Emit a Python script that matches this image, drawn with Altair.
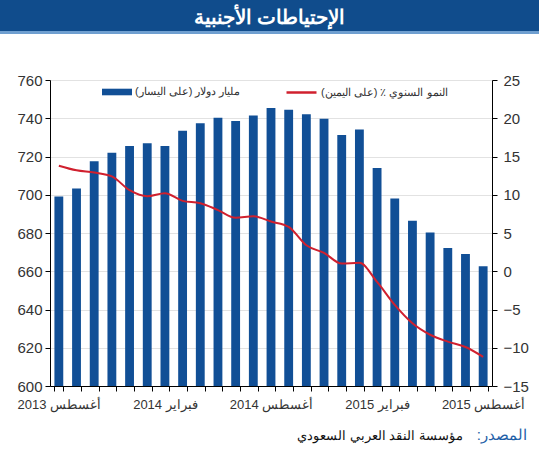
import altair as alt
import pandas as pd

# Monthly data, August 2013 - August 2015
months = [
    "أغسطس 2013", "سبتمبر 2013", "أكتوبر 2013", "نوفمبر 2013", "ديسمبر 2013",
    "يناير 2014", "فبراير 2014", "مارس 2014", "أبريل 2014", "مايو 2014",
    "يونيو 2014", "يوليو 2014", "أغسطس 2014", "سبتمبر 2014", "أكتوبر 2014",
    "نوفمبر 2014", "ديسمبر 2014", "يناير 2015", "فبراير 2015", "مارس 2015",
    "أبريل 2015", "مايو 2015", "يونيو 2015", "يوليو 2015", "أغسطس 2015",
]
# Foreign reserves, billion USD (left axis)
reserves = [
    699.1, 703.3, 717.5, 721.9, 725.5, 726.9, 725.5, 733.5, 737.4, 740.2,
    738.5, 741.4, 745.4, 744.5, 742.1, 739.7, 731.3, 734.1, 714.0, 698.1,
    686.4, 680.2, 672.2, 669.0, 662.6,
]
# Year-on-year growth, % (right axis)
growth = [
    13.8, 13.2, 12.9, 12.4, 10.6, 9.8, 10.2, 9.2, 8.9, 8.0,
    7.0, 7.2, 6.5, 5.8, 3.4, 2.4, 1.0, 1.1, -1.4, -4.4,
    -6.8, -8.3, -9.2, -9.9, -11.2,
]

title_text = "الإحتياطات الأجنبية"
bar_label = "مليار دولار (على اليسار)"
line_label = "النمو السنوي ٪ (على اليمين)"
source_head = "المصدر:\u200f"
source_body = "مؤسسة النقد العربي السعودي"

BLUE = "#114f96"
RED = "#d0202e"
FONT = "Liberation Sans"

df = pd.DataFrame({
    "month": months,
    "reserves": reserves,
    "growth": growth,
    "s1": [bar_label] * len(months),
    "s2": [line_label] * len(months),
})

W, H = 442, 306

x_enc = alt.X(
    "month:O",
    sort=None,
    title=None,
    scale=alt.Scale(paddingInner=0.5, paddingOuter=0.25),
    axis=alt.Axis(
        labelExpr="test(/^(أغسطس|فبراير)/, datum.value) ? datum.value : ''",
        labelAngle=0,
        labelOverlap=False,
        tickBand="extent",
        tickSize=5,
        tickColor="black",
        domainColor="black",
        labelFontSize=13,
        labelColor="#333",
        labelPadding=7,
        labelFont=FONT,
    ),
)

bars = alt.Chart(df).mark_bar(clip=True).encode(
    x=x_enc,
    y=alt.Y(
        "reserves:Q",
        title=None,
        scale=alt.Scale(domain=[600, 760], zero=False, nice=False),
        axis=alt.Axis(
            orient="left",
            values=list(range(600, 761, 20)),
            grid=True,
            gridColor="#e2e2e2",
            domainColor="black",
            tickColor="black",
            tickSize=5,
            labelFontSize=15,
            labelColor="#333",
            labelFont=FONT,
            labelPadding=3,
        ),
    ),
    y2=alt.datum(600),
    color=alt.Color(
        "s1:N",
        scale=alt.Scale(domain=[bar_label], range=[BLUE]),
        legend=alt.Legend(
            title=None,
            orient="none",
            legendX=52,
            legendY=-3,
            padding=0,
            symbolType="M-1,-0.22H1V0.22H-1Z",
            symbolSize=900,
            symbolStrokeWidth=0,
            labelFontSize=11,
            labelColor="#333",
            labelFont=FONT,
            labelOffset=3,
        ),
    ),
)

line = alt.Chart(df).mark_line(strokeWidth=2, interpolate="monotone").encode(
    x=x_enc,
    y=alt.Y(
        "growth:Q",
        title=None,
        scale=alt.Scale(domain=[-15, 25], nice=False),
        axis=alt.Axis(
            orient="right",
            values=list(range(-15, 26, 5)),
            grid=False,
            domainColor="black",
            tickColor="black",
            tickSize=5,
            labelFontSize=15,
            labelColor="#333",
            labelFont=FONT,
            labelPadding=6,
        ),
    ),
    stroke=alt.Stroke(
        "s2:N",
        scale=alt.Scale(domain=[line_label], range=[RED]),
        legend=alt.Legend(
            title=None,
            orient="none",
            legendX=235,
            legendY=-4,
            padding=0,
            symbolType="stroke",
            symbolSize=900,
            symbolStrokeWidth=2.5,
            labelFontSize=11,
            labelColor="#333",
            labelFont=FONT,
            labelOffset=3,
        ),
    ),
)

plot = alt.layer(bars, line).resolve_scale(y="independent", color="independent")

# Header band with the chart title
one = pd.DataFrame({"t": [title_text]})
header = alt.Chart(one).mark_rect(color="#104c8c").encode(
    x=alt.value(-50), x2=alt.value(489), y=alt.value(-80), y2=alt.value(-49)
)
header_line = alt.Chart(one).mark_rect(color="#6f9fd0").encode(
    x=alt.value(-50), x2=alt.value(489), y=alt.value(-49), y2=alt.value(-46)
)
header_text = alt.Chart(one).mark_text(
    color="white", fontSize=20, fontWeight="bold", font=FONT, align="center", baseline="alphabetic"
).encode(x=alt.value(219.5), y=alt.value(-56), text="t:N")

# Source line
src_head = alt.Chart(pd.DataFrame({"t": [source_head]})).mark_text(
    color="#1f5fa8", fontSize=15, font=FONT, align="right", baseline="alphabetic"
).encode(x=alt.value(477), y=alt.value(360), text="t:N")
src_body = alt.Chart(pd.DataFrame({"t": [source_body]})).mark_text(
    color="#111", fontSize=13, font=FONT, align="right", baseline="alphabetic"
).encode(x=alt.value(413), y=alt.value(360), text="t:N")

chart = alt.layer(
    header, header_line, header_text, plot, src_head, src_body
).resolve_scale(y="independent", color="independent").properties(
    width=W,
    height=H,
    autosize=alt.AutoSizeParams(type="none"),
    padding={"left": 50, "top": 80, "right": 47, "bottom": 64},
).configure_view(stroke=None).configure(background="white")

chart.save("out.html", embed_options={"renderer": "svg", "actions": False})
